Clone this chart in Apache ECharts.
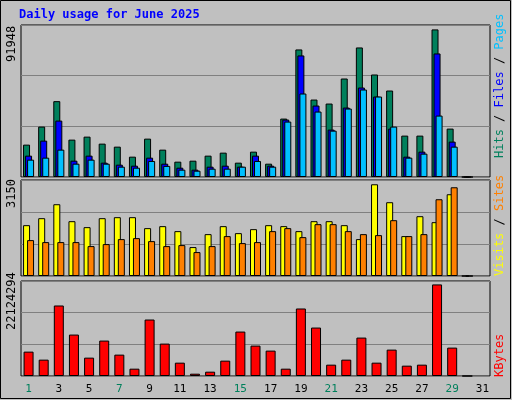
<!DOCTYPE html>
<html><head><meta charset="utf-8">
<script src="https://cdn.jsdelivr.net/npm/echarts@6/dist/echarts.min.js"></script>
<style>html,body{margin:0;padding:0;background:#c0c0c0}#c{width:512px;height:400px}</style>
</head><body><div id="c"></div>
<script>
const days = Array.from({length:31},(_,i)=>String(i+1));
const weekend = ['1','7','8','14','15','21','22','28','29'];
const hits  = [20160,31400,47250,23280,25150,20790,18910,12670,23900,17040,9550,10170,13300,15170,8930,15790,8300,36390,79460,48250,45750,61360,80710,63860,53870,25780,25780,91948,30150,0,null];
const files = [13300,22660,35140,10170,13300,8930,7680,7050,12050,8300,5800,4560,6430,7050,6430,13300,7050,35770,75720,44510,29520,43260,55740,50120,30150,12670,15790,76960,22040,0,null];
const pages = [10800,12050,17040,8300,10800,8300,6430,5800,9990,6920,4560,3930,5180,5180,6430,9990,6430,34520,52000,40760,28880,42640,54490,50120,31400,12050,14540,38260,18910,0,null];
const visits = [1746,1986,2465,1883,1678,1986,2020,2020,1644,1712,1541,993,1438,1712,1472,1609,1746,1712,1541,1883,1883,1746,1267,3150,2534,1370,2054,1849,2808,0,null];
const sites  = [1233,1164,1164,1164,1027,1096,1267,1301,1198,1027,1061,822,1027,1370,1130,1164,1541,1644,1335,1780,1780,1541,1438,1404,1917,1370,1438,2636,3047,0,null];
const kbytes = [5888000,3950000,17035000,10008000,4435000,8554000,5162000,1769000,13643000,7827000,3223000,557000,1042000,3708000,10735000,7342000,6131000,1769000,16308000,11704000,2738000,3950000,9281000,3223000,6373000,2496000,2738000,22124294,6858000,0,null];
const maxLabels = ['91948','3150','22124294'];

const mono = 'DejaVu Sans Mono';
const grids = [{left:21,right:22,top:25,height:152},{left:21,right:22,top:180,height:96},{left:21,right:22,top:281,height:95}]
  .map(g=>Object.assign(g,{show:true,borderColor:'#000',borderWidth:1,backgroundColor:'#c0c0c0'}));
const axMax = [94690,3297,22950000];
const xAxes = [0,1,2].map(i=>({type:'category',gridIndex:i,data:days,
  axisLine:{show:false},axisTick:{show:false},
  axisLabel:{show:i===2,fontFamily:mono,fontSize:11,margin:8,
    color:(v)=>weekend.includes(v)?'#00805c':'#000'}}));
const yAxes = [0,1,2].map(i=>({type:'value',gridIndex:i,min:0,max:axMax[i],interval:axMax[i]/3,
  axisLabel:{show:false},axisLine:{show:false},axisTick:{show:false},
  splitLine:{lineStyle:{color:'#808080',width:1}}}));
const bs = (name,data,color,i,w,gap)=>({name,type:'bar',data,xAxisIndex:i,yAxisIndex:i,barWidth:w,barGap:gap,
  itemStyle:{color,borderColor:'#000',borderWidth:1},animation:false});
const t = (txt,x,y,color,rot)=>({type:'text',x,y,rotation:rot,style:{text:txt,fill:color,font:'12px '+mono}});
const chart = echarts.init(document.getElementById('c'));
chart.setOption({
  backgroundColor:'#c0c0c0',
  grid:grids, xAxis:xAxes, yAxis:yAxes,
  series:[
    bs('Hits',hits,'#00805c',0,7,'-71%'),
    bs('Files',files,'#0000ff',0,7,'-71%'),
    bs('Pages',pages,'#00c0ff',0,7,'-71%'),
    bs('Visits',visits,'#ffff00',1,7,'-43%'),
    bs('Sites',sites,'#ff8000',1,7,'-43%'),
    bs('KBytes',kbytes,'#ff0000',2,10,'0%')
  ],
  graphic:[
    {type:'rect',shape:{x:0.5,y:0.5,width:510,height:398},style:{fill:'none',stroke:'#000',lineWidth:1}},
    {type:'text',x:19,y:9,style:{text:'Daily usage for June 2025',fill:'#0000ff',font:'bold 12px '+mono}},
    t(maxLabels[0],6,62,'#000',Math.PI/2),
    t(maxLabels[1],6,208,'#000',Math.PI/2),
    t(maxLabels[2],6,330,'#000',Math.PI/2),
    {type:'text',x:494,y:158,rotation:Math.PI/2,style:{rich:{a:{fill:'#00c0ff',font:'12px '+mono},b:{fill:'#000',font:'12px '+mono},c:{fill:'#0000ff',font:'12px '+mono},d:{fill:'#00805c',font:'12px '+mono}},text:'{d|Hits}{b| / }{c|Files}{b| / }{a|Pages}'}},
    {type:'text',x:494,y:276,rotation:Math.PI/2,style:{rich:{a:{fill:'#ffff00',font:'12px '+mono},b:{fill:'#000',font:'12px '+mono},c:{fill:'#ff8000',font:'12px '+mono}},text:'{a|Visits}{b| / }{c|Sites}'}},
    {type:'text',x:494,y:377,rotation:Math.PI/2,style:{text:'KBytes',fill:'#ff0000',font:'12px '+mono}}
  ]
});
</script></body></html>
